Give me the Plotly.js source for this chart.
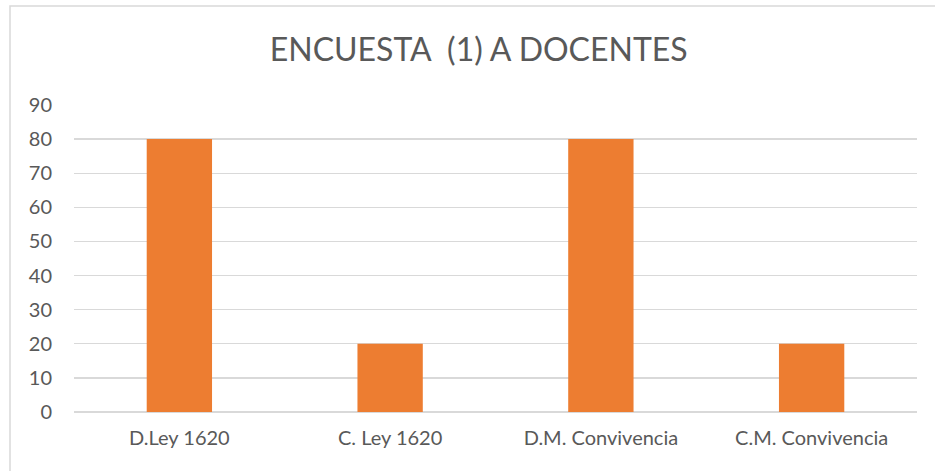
<!DOCTYPE html>
<html><head><meta charset="utf-8">
<script src="https://cdn.plot.ly/plotly-3.0.1.min.js"></script>
<style>html,body{margin:0;padding:0;background:#fff}#c{width:935px;height:471px}</style>
</head><body><div id="c"></div>
<script>
const categories = ["D.Ley 1620", "C. Ley 1620", "D.M. Convivencia", "C.M. Convivencia"];
const values = [80, 20, 80, 20];
const yTicks = [0, 10, 20, 30, 40, 50, 60, 70, 80, 90];
const chartTitle = "ENCUESTA&nbsp;&nbsp;(1) A DOCENTES";

const W = 935, H = 471, mL = 74, mR = 18, mT = 105, mB = 59;
const pw = W - mL - mR, ph = H - mT - mB;
const px = v => (v - mL) / pw;
const py = v => 1 - (v - mT) / ph;

Plotly.newPlot('c', [{
  type: 'bar', x: categories, y: values,
  marker: {color: '#ED7D31'}, hoverinfo: 'x+y'
}], {
  width: W, height: H,
  margin: {l: mL, r: mR, t: mT, b: mB},
  paper_bgcolor: '#fff', plot_bgcolor: '#fff',
  font: {family: 'Lato, sans-serif', color: '#595959'},
  title: {text: chartTitle, x: 0.512, xanchor: 'center', y: 0.895, yanchor: 'middle',
          font: {size: 32, color: '#595959', family: 'Lato, sans-serif'}},
  bargap: 0.69,
  showlegend: false,
  xaxis: {type: 'category', showgrid: false, zeroline: false, showline: false,
          ticks: '', tickfont: {size: 20, color: '#595959'}, ticklabelstandoff: 12},
  yaxis: {range: [0, 90], tickvals: yTicks, showgrid: true, gridcolor: '#d9d9d9', gridwidth: 1.3,
          zeroline: true, zerolinecolor: '#d9d9d9', zerolinewidth: 1.3, showline: false, ticks: '',
          tickfont: {size: 20, color: '#595959'}, ticklabelstandoff: 21},
  shapes: [{type: 'rect', xref: 'paper', yref: 'paper',
            x0: px(10), x1: px(940), y0: py(476), y1: py(6),
            line: {color: '#d9d9d9', width: 1.5}, fillcolor: 'rgba(0,0,0,0)', layer: 'below'}]
}, {displayModeBar: false, staticPlot: true});
</script></body></html>
